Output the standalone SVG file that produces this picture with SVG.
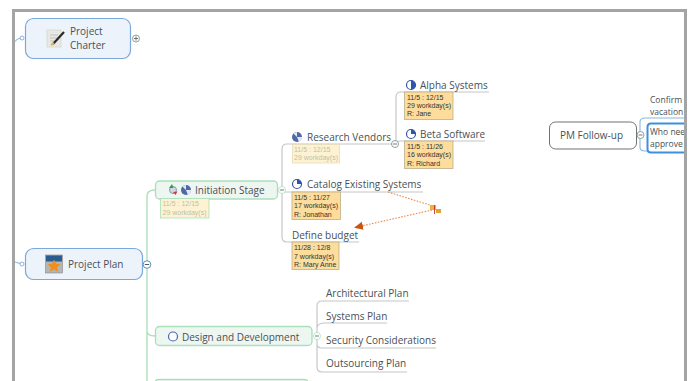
<svg xmlns="http://www.w3.org/2000/svg" width="693" height="381" viewBox="0 0 693 381">
<style>
text{font-family:"Open Sans","Noto Sans","Liberation Sans",sans-serif;font-size:10px;fill:#4a5056}
.c{fill:none;stroke:#c4c7c8;stroke-width:1.2}
.g{fill:none;stroke:#aee0bd;stroke-width:1.4}
.b{fill:none;stroke:#8db6dc;stroke-width:1.1}
.main{fill:#edf3fa;stroke:#7ba9dc;stroke-width:1.2}
.sub{fill:#eef6f1;stroke:#a9dfba;stroke-width:1.3}
.t{fill:#fedd9c;stroke:#bcae88;stroke-width:.8}
.tf{fill:#fdf3d2;stroke:#a9dfba;stroke-width:.8}
.n text{font-family:"Liberation Sans",Arial,sans-serif;font-size:7px;fill:#333}
.n.f text{fill:#c2bea8}
.tg{fill:#fff;stroke:#7a8a88;stroke-width:.8}
.pie{fill:#fff;stroke:#2f55a8;stroke-width:1.2}
.pf{fill:#2f55a8}
.d{fill:none;stroke:#e88c4a;stroke-width:1.1;stroke-dasharray:1.6 1.4}
.s{font-size:8.500px}
</style>
<defs>
<marker id="ah" markerWidth="9" markerHeight="9" refX="8" refY="4.500" orient="auto" markerUnits="userSpaceOnUse"><path d="M0 .5L9 4.500L0 8.500Z" fill="#c8540f"/></marker>
<clipPath id="view"><rect x="15" y="12" width="669" height="369"/></clipPath>
</defs>
<g id="connectors">
<path class="b" d="M15 41.500Q18 38 22 38M15 262Q18 263 22 264"/>
<path class="g" d="M147 264V196Q147 190 155 190M147 264V331Q147 336 155 336M147 264V381"/>
<path class="c" d="M282 190V149Q282 144 287 144H396M282 190V237Q282 242 287 242H359M282 192H423"/>
<path class="c" d="M396 144V97Q396 92 401 92H489M396 144V145Q396 141 400 141H485"/>
<path class="c" d="M317 336V306Q317 301 322 301H409M317 336V328Q317 323 325 323H387M317 336V344Q317 348 322 348H436M317 336V367Q317 372 322 372H407"/>
<path class="b" d="M640 135V122Q640 118 645 118H684M640 135V147Q640 151 645 151H648"/>
<path class="d" d="M388 192L433 206"/>
<path class="d" d="M432 210L355 227.500" marker-end="url(#ah)"/>
</g>
<g id="project-charter">
<rect class="main" x="25.500" y="18.500" width="105" height="40" rx="8"/>
<rect x="47" y="30" width="14" height="17" fill="#e8e8e4" stroke="#cfcfca" stroke-width=".6"/>
<path d="M50 35h8M50 38h8M50 41h6" stroke="#b5b5b0" stroke-width=".7"/>
<path d="M53 44L64 32" stroke="#2c2a26" stroke-width="2.200"/>
<path d="M51 45L54 43" stroke="#e9b22e" stroke-width="2"/>
<text x="70" y="35">Project</text><text x="70" y="49">Charter</text>
<circle cx="22" cy="38" r="2" fill="#fff" stroke="#7ba9dc" stroke-width=".9"/>
<circle class="tg" cx="136" cy="38.500" r="3.500"/><path d="M133.800 38.500h4.400M136 36.300v4.400" stroke="#555" stroke-width=".8"/>
</g>
<g id="project-plan">
<rect class="main" x="25.500" y="248.500" width="117" height="31" rx="8"/>
<rect x="45.500" y="255" width="17" height="18" fill="#b4b5b5" stroke="#888" stroke-width=".6"/>
<rect x="46" y="255.500" width="16" height="6" fill="#2a5d8e"/>
<path d="M54 259.500l2 4.200 4.600.5-3.400 3.100.9 4.500-4.100-2.300-4.100 2.300.9-4.500-3.400-3.100 4.600-.5z" fill="#f08f1e"/>
<text x="68" y="268">Project Plan</text>
<circle cx="22" cy="264" r="2" fill="#fff" stroke="#7ba9dc" stroke-width=".9"/>
<circle cx="147" cy="264.500" r="3.800" fill="#fff" stroke="#5a8fc4"/><path d="M144.800 264.500h4.400" stroke="#444" stroke-width=".9"/>
</g>
<g id="initiation-stage">
<rect class="sub" x="155.500" y="181" width="122" height="18" rx="4"/>
<circle cx="173" cy="190" r="3.500" fill="#cfd7e3" stroke="#6a7a98" stroke-width=".7"/>
<path d="M169 188l3-4 1.500 4z" fill="#2f9e3c"/><path d="M173 192l4.500-.5-2 3.500z" fill="#d23a3a"/>
<circle cx="186" cy="190" r="5" fill="#5068a6"/>
<path d="M186 185a5 5 0 0 0-3.600 1.600l3.600 3.400zM186 190l5 0a5 5 0 0 1-3.200 4.700z" fill="#fff" opacity=".85"/>
<text x="195" y="194">Initiation Stage</text>
<g class="n f"><rect class="tf" x="160.500" y="198.500" width="48.500" height="19.500"/><text x="162.500" y="206">11/5 : 12/15</text><text x="162.500" y="215">29 workday(s)</text></g>
<circle class="tg" cx="282" cy="190" r="3.500" style="stroke:#a9dfba"/><path d="M280 190h4" stroke="#555" stroke-width=".8"/>
</g>
<g id="research-vendors">
<circle cx="297" cy="137" r="5" fill="#5068a6"/>
<path d="M297 132a5 5 0 0 0-3.600 1.600l3.600 3.400zM297 137l5 0a5 5 0 0 1-3.200 4.700z" fill="#fff" opacity=".85"/>
<text x="307" y="141">Research Vendors</text>
<g class="n f"><rect x="292.500" y="144.500" width="47" height="18.500" fill="#fdf3d2" stroke="#e6dcb8" stroke-width=".8"/><text x="294" y="151.500">11/5 : 12/15</text><text x="294" y="160">29 workday(s)</text></g>
<circle class="tg" cx="395" cy="144" r="3.500"/><path d="M393 144h4" stroke="#555" stroke-width=".8"/>
</g>
<g id="alpha-systems">
<circle class="pie" cx="411" cy="85" r="4.500"/><path class="pf" d="M411 80.500a4.500 4.500 0 0 1 0 9z"/>
<text x="420" y="89">Alpha Systems</text>
<g class="n"><rect class="t" x="404.500" y="92" width="48.500" height="27.500"/><text x="407" y="99.500">11/5 : 12/15</text><text x="407" y="108">29 workday(s)</text><text x="407" y="116">R: Jane</text></g>
</g>
<g id="beta-software">
<circle class="pie" cx="411" cy="134" r="4.500"/><path class="pf" d="M411 134V129.500a4.500 4.500 0 0 1 4.500 4.500z"/>
<text x="420" y="138">Beta Software</text>
<g class="n"><rect class="t" x="404.500" y="141" width="48.500" height="27.500"/><text x="407" y="148.500">11/5 : 11/26</text><text x="407" y="157">16 workday(s)</text><text x="407" y="165.500">R: Richard</text></g>
</g>
<g id="catalog-existing-systems">
<circle class="pie" cx="297" cy="184" r="4.500"/><path class="pf" d="M297 184V179.500a4.500 4.500 0 0 1 4.500 4.500z"/>
<text x="307" y="188">Catalog Existing Systems</text>
<g class="n"><rect class="t" x="292" y="192" width="48.500" height="27.500"/><text x="294" y="199.500">11/5 : 11/27</text><text x="294" y="208">17 workday(s)</text><text x="294" y="216.500">R: Jonathan</text></g>
</g>
<g id="define-budget">
<text x="292" y="239">Define budget</text>
<g class="n"><rect class="t" x="292" y="242" width="47" height="27.500"/><text x="294" y="250">11/28 : 12/8</text><text x="294" y="258.500">7 workday(s)</text><text x="294" y="267">R: Mary Anne</text></g>
</g>
<g id="relationship-handles">
<rect x="430" y="205" width="6" height="5" fill="#e8b43c"/><rect x="436" y="209" width="5" height="4" fill="#d8a836"/>
<path d="M434.500 205V214" stroke="#d01818" stroke-width=".8"/>
</g>
<g id="design-and-development">
<rect class="sub" x="155.500" y="326.500" width="156.500" height="19" rx="4"/>
<circle cx="173" cy="336.500" r="4.500" fill="#fff" stroke="#4a63ae" stroke-width="1.200"/>
<text x="182" y="340.500">Design and Development</text>
<circle class="tg" cx="317" cy="336" r="3.500" style="stroke:#a9dfba"/><path d="M315 336h4" stroke="#555" stroke-width=".8"/>
</g>
<g id="next-stage"><path class="sub" d="M155.500 382v-.5q0-2 4-2h144q4 0 4 2v.5"/></g>
<g id="architectural-plan"><text x="326" y="297">Architectural Plan</text></g>
<g id="systems-plan"><text x="326" y="320">Systems Plan</text></g>
<g id="security-considerations"><text x="326" y="344">Security Considerations</text></g>
<g id="outsourcing-plan"><text x="326" y="367">Outsourcing Plan</text></g>
<g id="pm-follow-up">
<rect x="549.500" y="122" width="87" height="27" rx="6" fill="#fff" stroke="#6f7375" stroke-width="1"/>
<text x="560" y="139">PM Follow-up</text>
<circle class="tg" cx="640.500" cy="135" r="3.500"/><path d="M638.500 135h4" stroke="#555" stroke-width=".8"/>
</g>
<g id="confirm-vacation"><text class="s" x="650" y="103">Confirm</text><text class="s" x="650" y="114.500">vacation</text></g>
<g id="who-needs" clip-path="url(#view)">
<path d="M690 123.500H651q-3.500 0-3.500 3.500V149q0 3.500 3.500 3.500H690" fill="#fff" stroke="#3d8fe0" stroke-width="2"/>
<text class="s" x="650" y="135">Who nee</text><text class="s" x="650" y="147">approve</text>
</g>
<path id="frame" d="M13.500 381V10.500H685.500V381" fill="none" stroke="#a3a4a6" stroke-width="3"/>
</svg>
